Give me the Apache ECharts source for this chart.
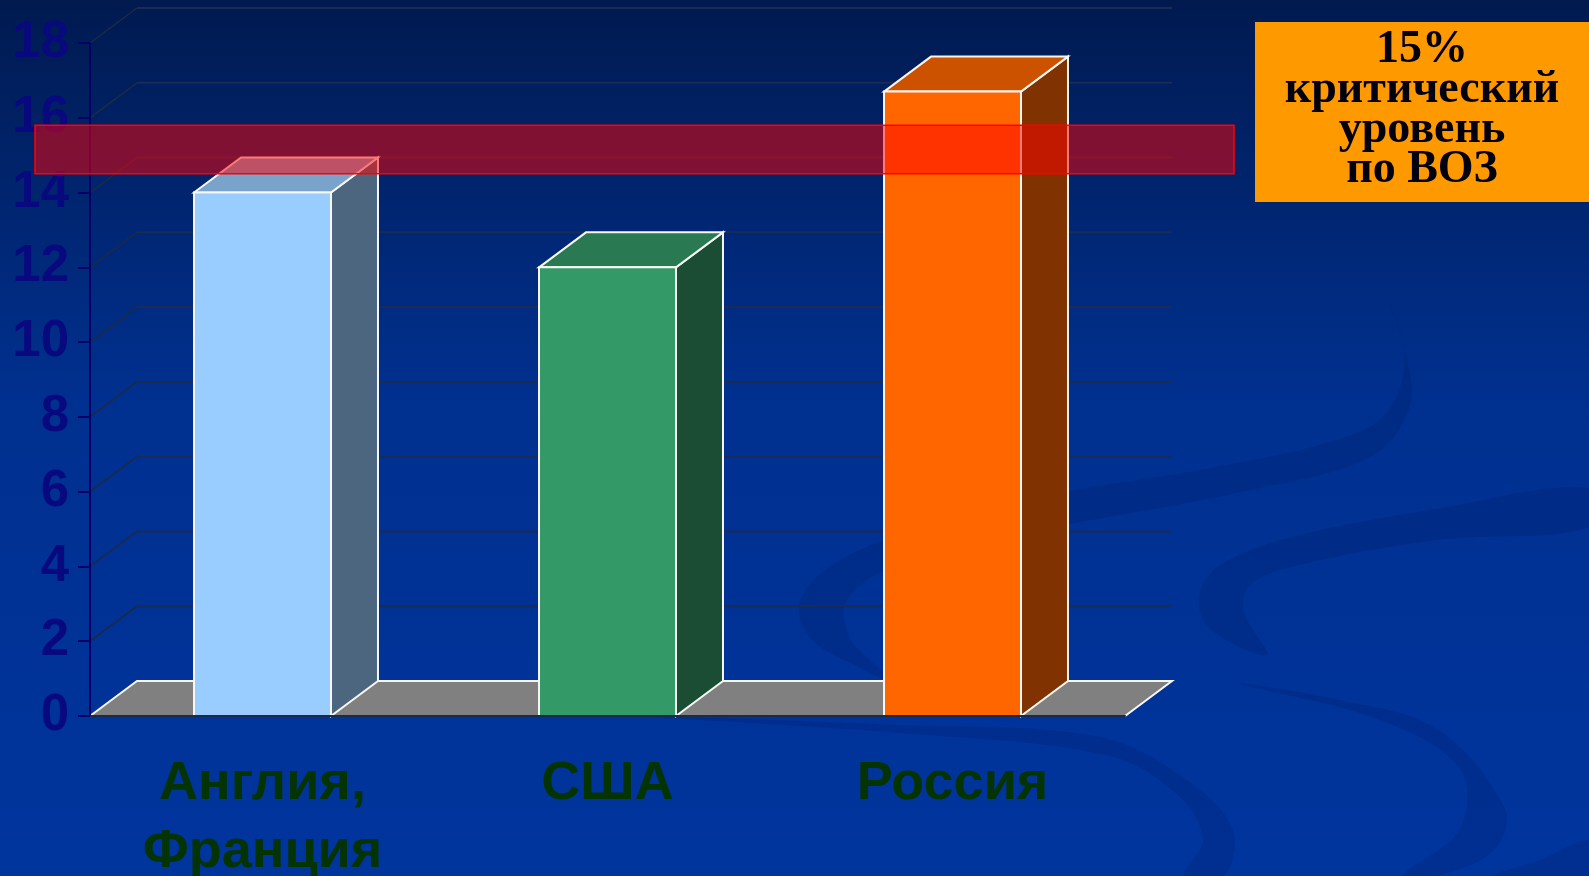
<!DOCTYPE html>
<html>
<head>
<meta charset="utf-8">
<script src="https://cdn.jsdelivr.net/npm/echarts@6/dist/echarts.min.js"></script>
<style>
  html, body { margin: 0; padding: 0; }
  #chart { width: 1589px; height: 876px; }
</style>
</head>
<body>
<div id="chart"></div>
<script>
(function() {

const categories = ['Англия,\nФранция', 'США', 'Россия'];
const values = [14, 12, 16.7];
const yTicks = [2, 4, 6, 8, 10, 12, 14, 16, 18];
const criticalBand = [14.5, 15.8];
const noteText = '15%\nкритический\nуровень\nпо ВОЗ';

const frontColors = ['#99ccff', '#339966', '#ff6600'];
const topColors = ['#7aa3cc', '#297a52', '#cc5200'];
const sideColors = ['#4d6680', '#1a4d33', '#803300'];

// depth of the fake 3d box
const DX = 47;
const DY = -35;
const EDGE = '#f6f6f2';

const barData = values.map((v, i) => [i, v]);
const wallData = yTicks.map((v) => [0, v]);

function renderBar(params, api) {
  const idx = api.value(0);
  const top = api.coord([idx, api.value(1)]);
  const base = api.coord([idx, 0]);
  const w = api.size([1, 0])[0] * 0.397;
  const x0 = top[0] - w / 2, x1 = top[0] + w / 2;
  const y1 = top[1], y0 = base[1];
  return {
    type: 'group',
    children: [
      { type: 'polygon', shape: { points: [[x1, y1], [x1 + DX, y1 + DY], [x1 + DX, y0 + DY], [x1, y0]] },
        style: { fill: sideColors[idx], stroke: EDGE, lineWidth: 2 } },
      { type: 'polygon', shape: { points: [[x0, y1], [x0 + DX, y1 + DY], [x1 + DX, y1 + DY], [x1, y1]] },
        style: { fill: topColors[idx], stroke: EDGE, lineWidth: 2 } },
      { type: 'rect', shape: { x: x0, y: y1, width: w, height: y0 - y1 },
        style: { fill: frontColors[idx], stroke: EDGE, lineWidth: 2 } }
    ]
  };
}

function renderWall(params, api) {
  const cs = params.coordSys;
  const y = api.coord([0, api.value(1)])[1];
  const left = cs.x, right = cs.x + cs.width;
  return {
    type: 'group',
    children: [
      { type: 'line', shape: { x1: left, y1: y, x2: left + DX, y2: y + DY },
        style: { stroke: '#1c2a44', lineWidth: 1.5 } },
      { type: 'line', shape: { x1: left + DX, y1: y + DY, x2: right + DX, y2: y + DY },
        style: { stroke: '#1a2b55', lineWidth: 2 } }
    ]
  };
}

function renderFloor(params, api) {
  const cs = params.coordSys;
  const y = api.coord([0, 0])[1];
  const left = cs.x, right = cs.x + cs.width;
  return {
    type: 'polygon',
    shape: { points: [[left, y], [left + DX, y + DY], [right + DX, y + DY], [right, y]] },
    style: { fill: '#808080', stroke: EDGE, lineWidth: 2 }
  };
}

function renderBand(params, api) {
  const cs = params.coordSys;
  const a = api.coord([0, api.value(1)]);
  const b = api.coord([0, api.value(2)]);
  return {
    type: 'rect',
    shape: { x: cs.x - 55, y: b[1], width: cs.width + 164, height: a[1] - b[1] },
    style: { fill: 'rgba(255,0,0,0.5)', stroke: '#ff0000', lineWidth: 1.5 }
  };
}

// background swirls of the slide
const swirlFill = 'rgba(0,18,80,0.16)';
const swirls = [
  [[1389, 302], [1405, 360], [1385, 415], [1330, 442], [1200, 470], [1060, 493], [930, 525], [840, 560], [800, 600],
   [810, 638], [860, 668], [892, 682], [870, 660], [850, 638], [845, 605], [875, 575], [950, 546], [1080, 522],
   [1240, 492], [1370, 457], [1410, 405], [1402, 340]],
  [[1589, 488], [1437, 509], [1300, 535], [1220, 565], [1199, 597], [1210, 629], [1267, 655], [1244, 612],
   [1250, 585], [1295, 566], [1437, 540], [1589, 527]],
  [[640, 716], [900, 725], [1100, 737], [1190, 782], [1233, 830], [1224, 876], [1184, 876], [1203, 840],
   [1180, 797], [1110, 756], [900, 733]],
  [[1240, 684], [1340, 700], [1437, 729], [1505, 809], [1494, 850], [1437, 876], [1403, 876], [1460, 829],
   [1460, 769], [1380, 720]],
  [[1494, 876], [1540, 860], [1589, 841], [1589, 876]]
];

const option = {
  animation: false,
  backgroundColor: {
    type: 'linear', x: 0, y: 0, x2: 0, y2: 1,
    colorStops: [
      { offset: 0, color: '#001a50' },
      { offset: 0.45, color: '#00308f' },
      { offset: 1, color: '#00359e' }
    ]
  },
  grid: { left: 90, right: 464, top: 43, bottom: 160, outerBoundsMode: 'none', containLabel: false },
  xAxis: {
    type: 'category',
    data: categories,
    z: 5,
    axisLine: { lineStyle: { color: '#1a2a4a', width: 2 } },
    axisTick: { length: 10, lineStyle: { color: '#1a2a4a', width: 2 } },
    axisLabel: {
      margin: 34,
      fontFamily: 'Liberation Sans, Arial, sans-serif',
      fontWeight: 'bold',
      fontSize: 54,
      lineHeight: 68,
      color: '#043304'
    }
  },
  yAxis: {
    type: 'value',
    min: 0,
    max: 18,
    interval: 2,
    z: 5,
    axisLine: { show: true, lineStyle: { color: '#000066', width: 2 } },
    axisTick: { show: true, length: 12, lineStyle: { color: '#000066', width: 2 } },
    splitLine: { show: false },
    axisLabel: {
      margin: 21,
      padding: [8, 0, 0, 0],
      fontFamily: 'Liberation Sans, Arial, sans-serif',
      fontWeight: 'bold',
      fontSize: 51,
      color: '#08087f'
    }
  },
  graphic: swirls.map((pts) => ({
    type: 'polygon',
    z: -10,
    silent: true,
    shape: { points: pts, smooth: 0.35 },
    style: { fill: swirlFill }
  })).concat([
    {
      type: 'group',
      z: 30,
      children: [
        { type: 'rect', shape: { x: 1255, y: 22, width: 334, height: 180 }, style: { fill: '#ff9900' } },
        { type: 'text', x: 1422, y: 110,
          style: {
            text: noteText,
            fill: '#00000f',
            font: 'bold 46px "Liberation Serif", "Times New Roman", serif',
            lineHeight: 40,
            align: 'center',
            verticalAlign: 'middle'
          } }
      ]
    }
  ]),
  series: [
    { type: 'custom', name: 'wall', z: 1, clip: false, renderItem: renderWall, data: wallData, silent: true },
    { type: 'custom', name: 'floor', z: 2, clip: false, renderItem: renderFloor, data: [[0, 0]], silent: true },
    { type: 'custom', name: 'bars', z: 3, clip: false, renderItem: renderBar, data: barData },
    { type: 'custom', name: 'band', z: 20, clip: false, renderItem: renderBand, data: [[0, criticalBand[0], criticalBand[1]]], silent: true }
  ]
};

const chart = echarts.init(document.getElementById('chart'));
chart.setOption(option);

window.addEventListener('resize', () => chart.resize());
})();
</script>
</body>
</html>
